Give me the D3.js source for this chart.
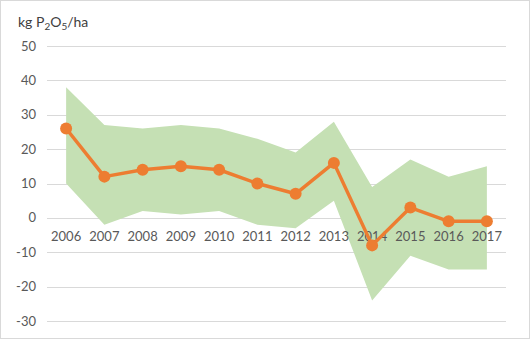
<!DOCTYPE html>
<html>
<head>
<meta charset="utf-8">
<script src="https://cdn.jsdelivr.net/npm/d3@7"></script>
<style>
  html, body { margin: 0; padding: 0; background: #fff; }
  svg { display: block; font-family: Lato, "Open Sans", sans-serif; }
</style>
</head>
<body>
<svg id="chart" width="530" height="339"></svg>
<script>
// Phosphorus balance per year: mean value and range (lower/upper)
const years = ["2006","2007","2008","2009","2010","2011","2012","2013","2014","2015","2016","2017"];
const meanValues = [26, 12, 14, 15, 14, 10, 7, 16, -8, 3, -1, -1];
const upperValues = [38, 27, 26, 27, 26, 23, 19, 28, 9, 17, 12, 15];
const lowerValues = [10, -2, 2, 1, 2, -2, -3, 5, -24, -11, -15, -15];
const yTicks = [50, 40, 30, 20, 10, 0, -10, -20, -30];

(function () {
  const W = 530, H = 339;
  const svg = d3.select("#chart");

  // outer frame
  svg.append("rect")
    .attr("x", 0.5).attr("y", 0.5)
    .attr("width", W - 1).attr("height", H - 1)
    .attr("fill", "#fff").attr("stroke", "#d9d9d9");

  const plotLeft = 47, plotRight = 506, plotTop = 46, plotBottom = 321;

  const x = d3.scaleBand().domain(years).range([plotLeft, plotRight]);
  const y = d3.scaleLinear().domain([-30, 50]).range([plotBottom, plotTop]);
  const cx = d => x(d) + x.bandwidth() / 2;

  // gridlines
  svg.append("g")
    .selectAll("line")
    .data(yTicks)
    .join("line")
    .attr("x1", plotLeft).attr("x2", plotRight)
    .attr("y1", d => Math.round(y(d)) + 0.5)
    .attr("y2", d => Math.round(y(d)) + 0.5)
    .attr("stroke", "#d9d9d9").attr("stroke-width", 1);

  // y tick labels
  svg.append("g")
    .selectAll("text")
    .data(yTicks)
    .join("text")
    .attr("x", 36)
    .attr("y", d => y(d))
    .attr("dy", "0.35em")
    .attr("text-anchor", "end")
    .attr("font-size", 13)
    .attr("fill", "#595959")
    .text(d => d);

  // range band
  const rows = years.map((yr, i) => ({ yr, lo: lowerValues[i], hi: upperValues[i], m: meanValues[i] }));
  svg.append("path")
    .datum(rows)
    .attr("fill", "#c5e0b4")
    .attr("d", d3.area().x(d => cx(d.yr)).y0(d => y(d.lo)).y1(d => y(d.hi)));

  // x labels, placed just under the zero line
  svg.append("g")
    .selectAll("text")
    .data(years)
    .join("text")
    .attr("x", d => cx(d))
    .attr("y", y(0) + 23)
    .attr("text-anchor", "middle")
    .attr("font-size", 13)
    .attr("fill", "#595959")
    .text(d => d);

  // mean line and markers
  svg.append("path")
    .datum(rows)
    .attr("fill", "none")
    .attr("stroke", "#ed7d31")
    .attr("stroke-width", 3.5)
    .attr("stroke-linejoin", "round")
    .attr("d", d3.line().x(d => cx(d.yr)).y(d => y(d.m)));

  svg.append("g")
    .selectAll("circle")
    .data(rows)
    .join("circle")
    .attr("cx", d => cx(d.yr))
    .attr("cy", d => y(d.m))
    .attr("r", 6)
    .attr("fill", "#ed7d31");

  // unit label
  const t = svg.append("text")
    .attr("x", 18).attr("y", 27)
    .attr("font-size", 14)
    .attr("fill", "#404040");
  t.append("tspan").text("kg P");
  t.append("tspan").attr("font-size", 10).attr("dy", 3).text("2");
  t.append("tspan").attr("dy", -3).text("O");
  t.append("tspan").attr("font-size", 10).attr("dy", 3).text("5");
  t.append("tspan").attr("dy", -3).text("/ha");
})();
</script>
</body>
</html>
